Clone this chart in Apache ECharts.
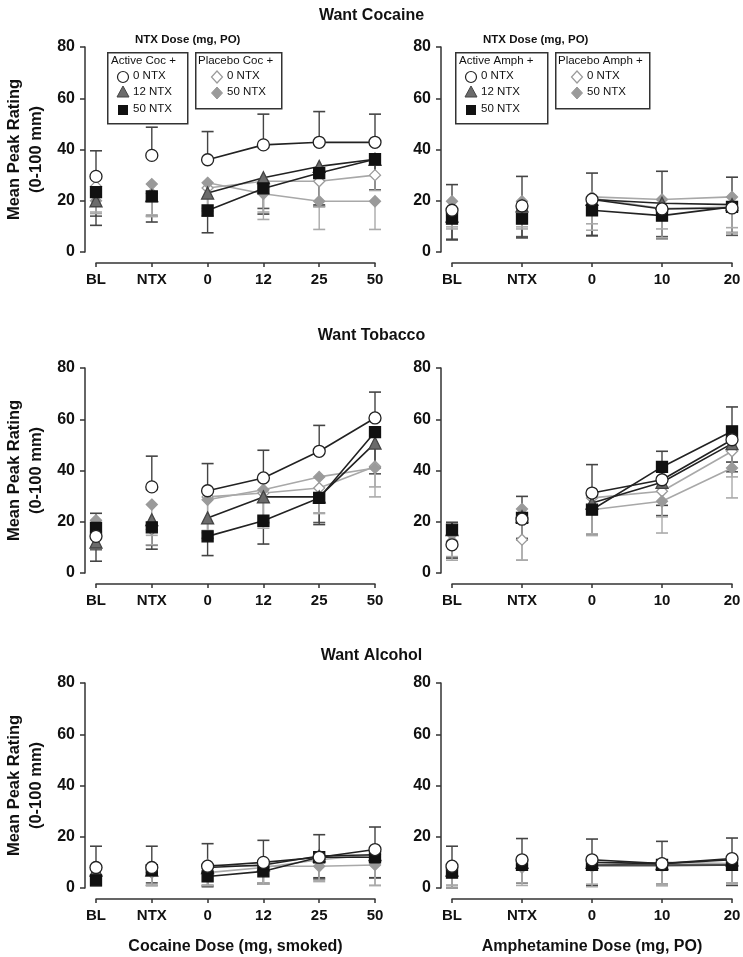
<!DOCTYPE html>
<html>
<head>
<meta charset="utf-8">
<script src="https://cdn.jsdelivr.net/npm/echarts@6/dist/echarts.min.js"></script>
<style>html,body{margin:0;padding:0;background:#fff}#c{width:743px;height:957px}</style>
</head>
<body>
<div id="c"></div>
<script>
// ---------- categories ----------
const cocaineCats = ['BL', 'NTX', '0', '12', '25', '50'];
const amphCats = ['BL', 'NTX', '0', '10', '20'];
const yTicks = [0, 20, 40, 60, 80];
const groupNames = ['Active + 0 NTX', 'Active + 12 NTX', 'Active + 50 NTX', 'Placebo + 0 NTX', 'Placebo + 50 NTX'];

// ---------- Want Cocaine / cocaine ----------
const wcCoc_act0 = [29.5, 37.7, 36.0, 41.8, 42.8, 42.8];
const wcCoc_act12 = [20.0, 22.0, 23.0, 29.0, 33.4, 36.2];
const wcCoc_act50 = [23.4, 21.7, 16.2, 24.8, 30.8, 36.2];
const wcCoc_pla0 = [25.6, 22.8, 25.0, 27.6, 27.6, 30.0];
const wcCoc_pla50 = [20.0, 26.5, 27.0, 22.7, 19.8, 19.8];
const wcCoc_err_act0 = [10, 11, 11, 12, 12, 11];
const wcCoc_err_act12 = [6, 8, 9, 12, 15, 12];
const wcCoc_err_act50 = [13, 10, 8.7, 10, 13, 12];
const wcCoc_err_pla0 = [10, 9, 9, 12, 10, 6];
const wcCoc_err_pla50 = [5, 12, 10, 10, 11, 11];

// ---------- Want Cocaine / amphetamine ----------
const wcAmp_act0 = [16.3, 18.0, 20.5, 16.8, 17.2];
const wcAmp_act12 = [14.0, 18.0, 20.5, 19.0, 18.5];
const wcAmp_act50 = [13.0, 13.0, 16.3, 14.2, 17.6];
const wcAmp_pla0 = [15.0, 18.0, 21.0, 17.0, 17.5];
const wcAmp_pla50 = [19.8, 19.8, 21.5, 20.5, 21.5];
const wcAmp_err_act0 = [10, 11.5, 10.3, 14.7, 12];
const wcAmp_err_act12 = [9, 12, 14, 13, 12];
const wcAmp_err_act50 = [8.3, 7.5, 10, 9, 10];
const wcAmp_err_pla0 = [6, 9, 10, 8, 8];
const wcAmp_err_pla50 = [10, 10, 13, 15, 14];

// ---------- Want Tobacco / cocaine ----------
const wtCoc_act0 = [14.3, 33.6, 32.1, 37.1, 47.5, 60.5];
const wtCoc_act12 = [12.1, 20.8, 21.5, 29.7, 29.7, 50.7];
const wtCoc_act50 = [17.6, 17.8, 14.3, 20.4, 29.3, 55.0];
const wtCoc_pla0 = [16.0, 17.0, 29.7, 31.2, 33.2, 41.6];
const wtCoc_pla50 = [20.6, 26.7, 28.6, 32.5, 37.5, 41.0];
const wtCoc_err_act0 = [9, 12, 10.6, 10.8, 10.1, 10.1];
const wtCoc_err_act12 = [3, 10, 8, 10, 10, 12];
const wtCoc_err_act50 = [13, 8.5, 7.5, 9.1, 10.4, 14];
const wtCoc_err_pla0 = [6, 6, 14, 12, 10, 8];
const wtCoc_err_pla50 = [11, 12, 12, 15, 14, 11.3];

// ---------- Want Tobacco / amphetamine ----------
const wtAmp_act0 = [11.0, 21.0, 31.2, 36.4, 52.0];
const wtAmp_act12 = [16.9, 22.0, 27.3, 35.4, 50.5];
const wtAmp_act50 = [16.9, 21.5, 24.7, 41.4, 55.3];
const wtAmp_pla0 = [12.4, 13.0, 29.3, 31.9, 47.5];
const wtAmp_pla50 = [15.0, 25.0, 24.7, 28.0, 41.0];
const wtAmp_err_act0 = [8.8, 8.9, 11.1, 11.1, 12.8];
const wtAmp_err_act12 = [11, 9, 12, 13, 11];
const wtAmp_err_act50 = [11, 8, 10, 15, 12];
const wtAmp_err_pla0 = [6, 8, 14, 10, 10];
const wtAmp_err_pla50 = [10, 20, 10, 12.4, 11.7];

// ---------- Want Alcohol / cocaine ----------
const waCoc_act0 = [8.0, 8.0, 8.5, 10.0, 12.0, 15.0];
const waCoc_act12 = [7.0, 7.0, 8.0, 9.0, 12.5, 13.0];
const waCoc_act50 = [3.0, 7.0, 4.5, 6.5, 12.0, 12.0];
const waCoc_pla0 = [5.0, 6.0, 6.0, 8.0, 11.0, 13.0];
const waCoc_pla50 = [8.0, 8.0, 9.0, 8.5, 8.5, 9.0];
const waCoc_err_act0 = [8.3, 8.3, 8.8, 8.6, 8.8, 8.8];
const waCoc_err_act12 = [5, 5, 7, 7, 9, 9];
const waCoc_err_act50 = [2, 6, 4, 5, 8, 8];
const waCoc_err_pla0 = [3, 5, 5, 6, 8, 12];
const waCoc_err_pla50 = [7, 7, 8, 7, 6, 8];

// ---------- Want Alcohol / amphetamine ----------
const waAmp_act0 = [8.5, 11.0, 11.0, 9.5, 11.5];
const waAmp_act12 = [7.0, 10.0, 10.0, 9.5, 11.0];
const waAmp_act50 = [6.0, 9.0, 9.0, 9.0, 9.0];
const waAmp_pla0 = [7.0, 9.0, 8.5, 8.5, 9.0];
const waAmp_pla50 = [8.0, 8.0, 8.5, 10.0, 9.5];
const waAmp_err_act0 = [7.8, 8.3, 8.1, 8.7, 8.0];
const waAmp_err_act12 = [6, 8, 9, 8, 9];
const waAmp_err_act50 = [6, 7, 8, 8, 8];
const waAmp_err_pla0 = [6, 8, 8, 7, 7];
const waAmp_err_pla50 = [8, 6, 7, 9, 8];

// ---------- panel text ----------
const rowTitles = ['Want Cocaine', 'Want Tobacco', 'Want Alcohol'];
const xTitles = ['Cocaine Dose (mg, smoked)', 'Amphetamine Dose (mg, PO)'];
const yTitle = 'Mean Peak Rating\n(0-100 mm)';

const FONT = '"Liberation Sans", Arial, sans-serif';

// styles per group (order: act0, act12, act50, pla0, pla50)
const groupStyle = [
  {symbol: 'circle', size: 12, fill: '#ffffff', border: '#222', line: '#222', lw: 1.6, errDir: 1, errColor: '#444', z: 9},
  {symbol: 'triangle', size: 12, fill: '#6b6b6b', border: '#444', line: '#222', lw: 1.6, errDir: -1, errColor: '#555', z: 7},
  {symbol: 'rect', size: 11, fill: '#111', border: '#111', line: '#222', lw: 1.6, errDir: -1, errColor: '#444', z: 8},
  {symbol: 'diamond', size: 11, fill: '#ffffff', border: '#9a9a9a', line: '#a8a8a8', lw: 1.6, errDir: -1, errColor: '#aaa', z: 5},
  {symbol: 'diamond', size: 11, fill: '#9a9a9a', border: '#9a9a9a', line: '#a8a8a8', lw: 1.6, errDir: -1, errColor: '#aaa', z: 6}
];

const panels = [
  {cats: cocaineCats, vals: [wcCoc_act0, wcCoc_act12, wcCoc_act50, wcCoc_pla0, wcCoc_pla50], errs: [wcCoc_err_act0, wcCoc_err_act12, wcCoc_err_act50, wcCoc_err_pla0, wcCoc_err_pla50]},
  {cats: amphCats, vals: [wcAmp_act0, wcAmp_act12, wcAmp_act50, wcAmp_pla0, wcAmp_pla50], errs: [wcAmp_err_act0, wcAmp_err_act12, wcAmp_err_act50, wcAmp_err_pla0, wcAmp_err_pla50]},
  {cats: cocaineCats, vals: [wtCoc_act0, wtCoc_act12, wtCoc_act50, wtCoc_pla0, wtCoc_pla50], errs: [wtCoc_err_act0, wtCoc_err_act12, wtCoc_err_act50, wtCoc_err_pla0, wtCoc_err_pla50]},
  {cats: amphCats, vals: [wtAmp_act0, wtAmp_act12, wtAmp_act50, wtAmp_pla0, wtAmp_pla50], errs: [wtAmp_err_act0, wtAmp_err_act12, wtAmp_err_act50, wtAmp_err_pla0, wtAmp_err_pla50]},
  {cats: cocaineCats, vals: [waCoc_act0, waCoc_act12, waCoc_act50, waCoc_pla0, waCoc_pla50], errs: [waCoc_err_act0, waCoc_err_act12, waCoc_err_act50, waCoc_err_pla0, waCoc_err_pla50]},
  {cats: amphCats, vals: [waAmp_act0, waAmp_act12, waAmp_act50, waAmp_pla0, waAmp_pla50], errs: [waAmp_err_act0, waAmp_err_act12, waAmp_err_act50, waAmp_err_pla0, waAmp_err_pla50]}
];

// layout
const rowTops = [47, 368, 683];
const plotH = 205;
const colLeft = [96, 452];
const colWidth = [279, 280];

const grids = [], xAxes = [], yAxes = [], series = [];

panels.forEach((p, i) => {
  const row = Math.floor(i / 2), col = i % 2;
  grids.push({left: colLeft[col], top: rowTops[row], width: colWidth[col], height: plotH, containLabel: false, outerBoundsMode: 'none'});
  xAxes.push({
    type: 'category', gridIndex: i, data: p.cats, boundaryGap: false, offset: 11,
    axisLine: {onZero: false, lineStyle: {color: '#333', width: 1.5}},
    axisTick: {show: true, alignWithLabel: true, length: 4, lineStyle: {color: '#333', width: 1.5}},
    axisLabel: {color: '#111', fontSize: 15, fontWeight: 'bold', fontFamily: FONT, margin: 9, interval: 0},
    name: row === 2 ? xTitles[col] : '', nameLocation: 'middle', nameGap: 40,
    nameTextStyle: {color: '#111', fontSize: 16, fontWeight: 'bold', fontFamily: FONT},
    splitLine: {show: false}
  });
  yAxes.push({
    type: 'value', gridIndex: i, min: yTicks[0], max: yTicks[yTicks.length - 1], interval: 20, offset: 11,
    axisLine: {show: true, onZero: false, lineStyle: {color: '#333', width: 1.5}},
    axisTick: {show: true, length: 5, lineStyle: {color: '#333', width: 1.5}},
    axisLabel: {color: '#111', fontSize: 16, fontWeight: 'bold', fontFamily: FONT, margin: 10},
    splitLine: {show: false},
    name: col === 0 ? yTitle : '', nameLocation: 'middle', nameGap: 38, nameRotate: 90, nameMoveOverlap: false,
    nameTextStyle: {color: '#111', fontSize: 16.5, fontWeight: 'bold', fontFamily: FONT, lineHeight: 22}
  });

  p.vals.forEach((vals, g) => {
    const st = groupStyle[g];
    const errs = p.errs[g];
    // error bars
    series.push({
      type: 'custom', xAxisIndex: i, yAxisIndex: i, z: 1, silent: true,
      data: vals.map((v, k) => [k, v, v + st.errDir * errs[k]]),
      renderItem: (params, api) => {
        const a = api.coord([api.value(0), api.value(1)]);
        const b = api.coord([api.value(0), api.value(2)]);
        return {type: 'group', children: [
          {type: 'line', shape: {x1: a[0], y1: a[1], x2: b[0], y2: b[1]}, style: {stroke: st.errColor, lineWidth: 1.4}},
          {type: 'line', shape: {x1: b[0] - 6, y1: b[1], x2: b[0] + 6, y2: b[1]}, style: {stroke: st.errColor, lineWidth: 1.6}}
        ]};
      }
    });
    const itemStyle = {color: st.fill, borderColor: st.border, borderWidth: 1.3, opacity: 1};
    // connected dose-response part
    series.push({
      name: groupNames[g], type: 'line', xAxisIndex: i, yAxisIndex: i, z: st.z,
      data: vals.map((v, k) => (k < 2 ? null : v)),
      symbol: st.symbol, symbolSize: st.size, showAllSymbol: true, connectNulls: false,
      lineStyle: {color: st.line, width: st.lw}, itemStyle: itemStyle
    });
    // isolated BL / NTX points
    series.push({
      name: groupNames[g], type: 'scatter', xAxisIndex: i, yAxisIndex: i, z: st.z,
      data: vals.map((v, k) => (k < 2 ? v : null)),
      symbol: st.symbol, symbolSize: st.size, itemStyle: itemStyle
    });
  });
});

// titles
const titles = rowTitles.map((t, r) => ({
  text: t, left: 'center', top: [3, 323, 643][r],
  textStyle: {color: '#111', fontSize: 16, fontWeight: 'bold', fontFamily: FONT}
}));

// legend graphics
function legendBlock(x0, drug) {
  const els = [];
  const tStyle = {fill: '#111', font: '11.5px ' + FONT};
  els.push({type: 'text', left: x0 + 28, top: 34, style: {text: 'NTX Dose (mg, PO)', fill: '#111', font: 'bold 11.5px ' + FONT}});
  const b1w = drug === 'Coc' ? 80 : 92;
  els.push({type: 'rect', left: x0, top: 52, shape: {width: b1w, height: 71}, style: {fill: '#fff', stroke: '#333', lineWidth: 1.5}});
  els.push({type: 'text', left: x0 + 4, top: 55, style: Object.assign({text: 'Active ' + drug + ' +'}, tStyle)});
  const sx = x0 + 16;
  els.push({type: 'circle', shape: {cx: sx, cy: 77, r: 5.5}, style: {fill: '#fff', stroke: '#222', lineWidth: 1.2}});
  els.push({type: 'polygon', shape: {points: [[sx, 86], [sx - 6, 97], [sx + 6, 97]]}, style: {fill: '#6b6b6b', stroke: '#444', lineWidth: 1}});
  els.push({type: 'rect', shape: {x: sx - 5, y: 105, width: 10, height: 10}, style: {fill: '#111'}});
  els.push({type: 'text', left: sx + 10, top: 70, style: Object.assign({text: '0 NTX'}, tStyle)});
  els.push({type: 'text', left: sx + 10, top: 86, style: Object.assign({text: '12 NTX'}, tStyle)});
  els.push({type: 'text', left: sx + 10, top: 103, style: Object.assign({text: '50 NTX'}, tStyle)});
  const x1 = x0 + b1w + 8;
  const b2w = drug === 'Coc' ? 86 : 94;
  els.push({type: 'rect', left: x1, top: 52, shape: {width: b2w, height: 56}, style: {fill: '#fff', stroke: '#333', lineWidth: 1.5}});
  els.push({type: 'text', left: x1 + 3, top: 55, style: Object.assign({text: 'Placebo ' + drug + ' +'}, tStyle)});
  const dx = x1 + 22;
  els.push({type: 'polygon', shape: {points: [[dx, 71], [dx + 5.5, 77], [dx, 83], [dx - 5.5, 77]]}, style: {fill: '#fff', stroke: '#9a9a9a', lineWidth: 1.2}});
  els.push({type: 'polygon', shape: {points: [[dx, 87], [dx + 5.5, 93], [dx, 99], [dx - 5.5, 93]]}, style: {fill: '#9a9a9a', stroke: '#9a9a9a', lineWidth: 1}});
  els.push({type: 'text', left: dx + 10, top: 70, style: Object.assign({text: '0 NTX'}, tStyle)});
  els.push({type: 'text', left: dx + 10, top: 86, style: Object.assign({text: '50 NTX'}, tStyle)});
  return els;
}

const graphics = [].concat(legendBlock(107, 'Coc'), legendBlock(455, 'Amph')).map(e => Object.assign({z: 100}, e));

const chart = echarts.init(document.getElementById('c'), null, {renderer: 'canvas'});
chart.setOption({
  animation: false,
  backgroundColor: '#fff',
  title: titles,
  grid: grids,
  xAxis: xAxes,
  yAxis: yAxes,
  series: series,
  graphic: graphics
});
</script>
</body>
</html>
